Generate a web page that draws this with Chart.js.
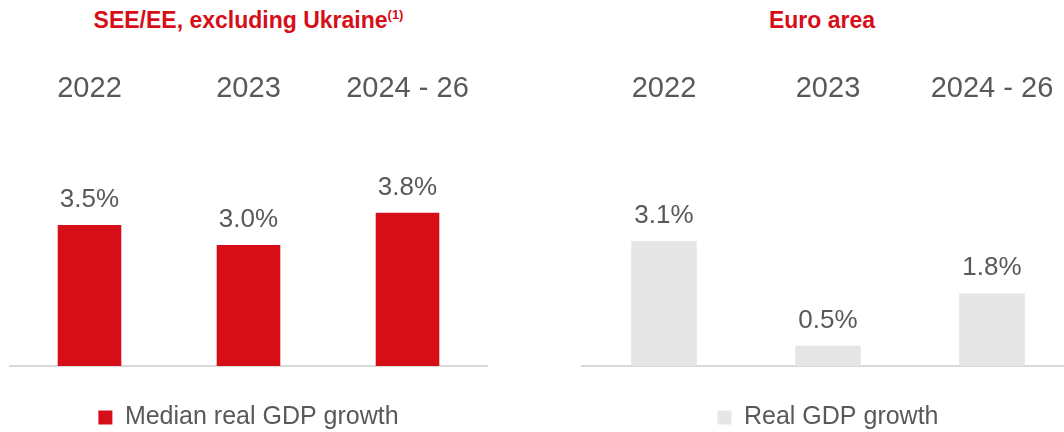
<!DOCTYPE html>
<html>
<head>
<meta charset="utf-8">
<script src="https://cdn.jsdelivr.net/npm/chart.js@4"></script>
<style>
  html, body { margin: 0; padding: 0; background: #fff; width: 1064px; height: 432px; overflow: hidden; position: relative; }
  .title { position: absolute; top: 9px; font: bold 23px "Liberation Sans", Arial, sans-serif; line-height: 1; color: #d60e18; text-align: center; white-space: nowrap; }
  .title sup { font-size: 13px; vertical-align: 9px; line-height: 0; }
  .box { position: absolute; top: 0; height: 440px; }
</style>
</head>
<body>
<div class="title" style="left:0; width:497px;">SEE/EE, excluding Ukraine<sup>(1)</sup></div>
<div class="title" style="left:572px; width:500px;">Euro area</div>
<div class="box" style="left:0; width:497px;"><canvas id="left"></canvas></div>
<div class="box" style="left:572px; width:512px;"><canvas id="right"></canvas></div>
<script>
// data
const periods = ['2022', '2023', '2024 - 26'];
const seeGrowth = [3.5, 3.0, 3.8];
const euroGrowth = [3.1, 0.5, 1.8];
const seeLabel = 'Median real GDP growth';
const euroLabel = 'Real GDP growth';

const FONT = '"Liberation Sans", Arial, sans-serif';
const GREY_TEXT = '#595959';

// write the value above each bar
const valueLabels = {
    id: 'valueLabels',
    afterDatasetsDraw(chart) {
        const ctx = chart.ctx;
        ctx.save();
        ctx.font = '26px ' + FONT;
        ctx.fillStyle = GREY_TEXT;
        ctx.textAlign = 'center';
        ctx.textBaseline = 'alphabetic';
        chart.getDatasetMeta(0).data.forEach((bar, i) => {
            const v = chart.data.datasets[0].data[i];
            ctx.fillText(v.toFixed(1) + '%', bar.x, bar.y - 18);
        });
        ctx.restore();
    }
};

function makeChart(id, width, values, label, color) {
    const canvas = document.getElementById(id);
    canvas.width = width;
    canvas.height = 440;
    canvas.style.width = width + 'px';
    canvas.style.height = '440px';
    return new Chart(canvas, {
        type: 'bar',
        data: {
            labels: periods,
            datasets: [{
                label: label,
                data: values,
                backgroundColor: color,
                borderWidth: 0,
                categoryPercentage: 1,
                barPercentage: 0.4
            }]
        },
        options: {
            responsive: false,
            animation: false,
            layout: { padding: { top: 68, left: 10, right: 10, bottom: 0 } },
            scales: {
                x: {
                    position: 'top',
                    grid: { display: false, drawTicks: false },
                    border: { display: false },
                    ticks: { font: { family: FONT, size: 29 }, color: GREY_TEXT, padding: 4, maxRotation: 0 }
                },
                xBase: {
                    type: 'category',
                    position: 'bottom',
                    grid: { display: false, drawTicks: false },
                    border: { display: true, color: '#d9d9d9', width: 2 },
                    ticks: { display: false }
                },
                y: { display: false, min: 0, max: 6.33 }
            },
            plugins: {
                legend: {
                    position: 'bottom',
                    labels: {
                        boxWidth: 14, boxHeight: 14, padding: 39,
                        font: { family: FONT, size: 25 }, color: GREY_TEXT
                    }
                },
                tooltip: { enabled: false }
            }
        },
        plugins: [valueLabels]
    });
}

makeChart('left', 497, seeGrowth, seeLabel, '#d60e18');
makeChart('right', 512, euroGrowth, euroLabel, '#e6e6e6');
</script>
</body>
</html>
